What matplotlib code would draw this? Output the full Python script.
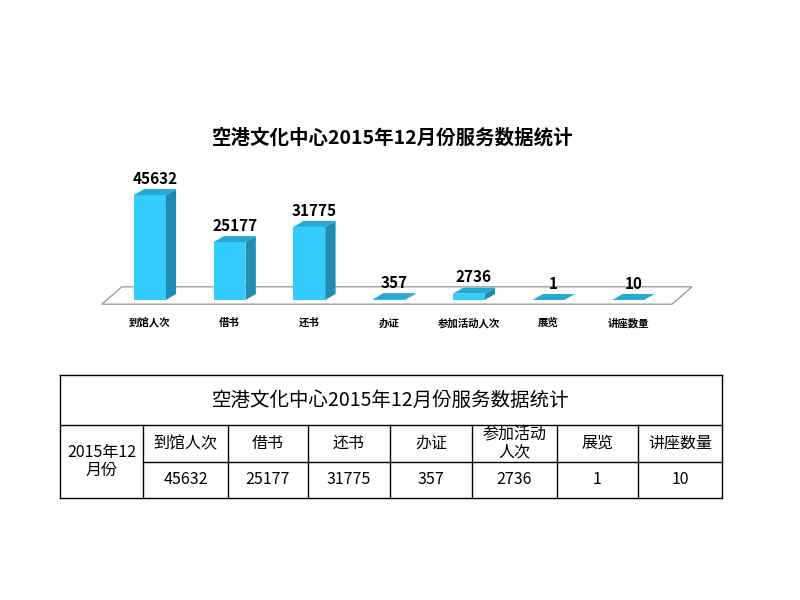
import matplotlib
matplotlib.use("Agg")
import matplotlib.pyplot as plt
from matplotlib import font_manager
from matplotlib.patches import Polygon

# pick whatever CJK font is actually registered
cjk = [f.name for f in font_manager.fontManager.ttflist if "CJK" in f.name]
pref = [n for n in ["Noto Sans CJK SC", "Noto Sans CJK JP", "Noto Sans CJK TC", "Noto Sans CJK KR"] if n in cjk]
FONT = (pref or cjk or ["DejaVu Sans"])[0]
matplotlib.rcParams["font.family"] = "sans-serif"
matplotlib.rcParams["font.sans-serif"] = [FONT, "DejaVu Sans"]

TITLE = "空港文化中心2015年12月份服务数据统计"
categories = ["到馆人次", "借书", "还书", "办证", "参加活动人次", "展览", "讲座数量"]
table_headers = ["到馆人次", "借书", "还书", "办证", "参加活动\n人次", "展览", "讲座数量"]
values = [45632, 25177, 31775, 357, 2736, 1, 10]
row_label = "2015年12\n月份"

C_FRONT = "#33CCFF"
C_SIDE = "#1F8CB4"
C_TOP = "#29A8D4"

fig = plt.figure(figsize=(8, 6), dpi=100)

# ── pseudo-3D bar chart ─────────────────────────────────────────────
W, H = 800, 600
YMAX = 50000
ax = fig.add_axes([86 / W, 1 - 300 / H, 606 / W, 115 / H])
ax.set_xlim(-0.8, 6.8)
ax.set_ylim(0, YMAX)
ax.axis("off")

bw = 0.4
dx = 0.13
dy = 6 / 115 * YMAX

floor = Polygon([(-0.6, -dy * 0.7), (6.55, -dy * 0.7), (6.8, dy * 2.2), (-0.35, dy * 2.2)],
                closed=True, facecolor="white", edgecolor="#A0A0A0", lw=1, clip_on=False, zorder=0)
ax.add_patch(floor)

x = list(range(len(values)))
ax.bar(x, values, width=bw, color=C_FRONT, zorder=3)
for xi, v in zip(x, values):
    l, r = xi - bw / 2, xi + bw / 2
    ax.add_patch(Polygon([(r, 0), (r + dx, dy), (r + dx, v + dy), (r, v)],
                         facecolor=C_SIDE, edgecolor="none", zorder=2, clip_on=False))
    ax.add_patch(Polygon([(l, v), (l + dx, v + dy), (r + dx, v + dy), (r, v)],
                         facecolor=C_TOP, edgecolor="none", zorder=4, clip_on=False))
    ax.text(xi + dx / 2, v + dy * 1.4, str(v), ha="center", va="bottom",
            fontsize=11, fontweight="bold", clip_on=False)
    ax.text(xi, -dy * 3.0, categories[xi], ha="center", va="top",
            fontsize=7.5, fontweight="bold", clip_on=False)

fig.text(393 / W, 1 - 138 / H, TITLE, ha="center", va="center", fontsize=14, fontweight="bold")

# ── table ───────────────────────────────────────────────────────────
tx = fig.add_axes([0, 0, 1, 1])
tx.set_xlim(0, W)
tx.set_ylim(H, 0)
tx.axis("off")

cols = [60, 143, 228, 308, 390, 472, 557, 638, 722]
rows = [375, 425, 462, 498]
lk = dict(color="black", lw=1)
tx.plot([cols[0], cols[-1]], [rows[0], rows[0]], **lk)
tx.plot([cols[0], cols[-1]], [rows[1], rows[1]], **lk)
tx.plot([cols[1], cols[-1]], [rows[2], rows[2]], **lk)
tx.plot([cols[0], cols[-1]], [rows[3], rows[3]], **lk)
tx.plot([cols[0], cols[0]], [rows[0], rows[3]], **lk)
tx.plot([cols[-1], cols[-1]], [rows[0], rows[3]], **lk)
for c in cols[1:-1]:
    tx.plot([c, c], [rows[1], rows[3]], **lk)

tx.text((cols[0] + cols[-1]) / 2, (rows[0] + rows[1]) / 2, TITLE, ha="center", va="center", fontsize=14)
tx.text((cols[0] + cols[1]) / 2, (rows[1] + rows[3]) / 2, row_label, ha="center", va="center",
        fontsize=11.5, linespacing=1.1)
for i, (h, v) in enumerate(zip(table_headers, values)):
    cx = (cols[i + 1] + cols[i + 2]) / 2
    tx.text(cx, (rows[1] + rows[2]) / 2, h, ha="center", va="center", fontsize=11.5, linespacing=0.95)
    tx.text(cx, (rows[2] + rows[3]) / 2, str(v), ha="center", va="center", fontsize=11.5)

fig.savefig("out.png", dpi=100)
